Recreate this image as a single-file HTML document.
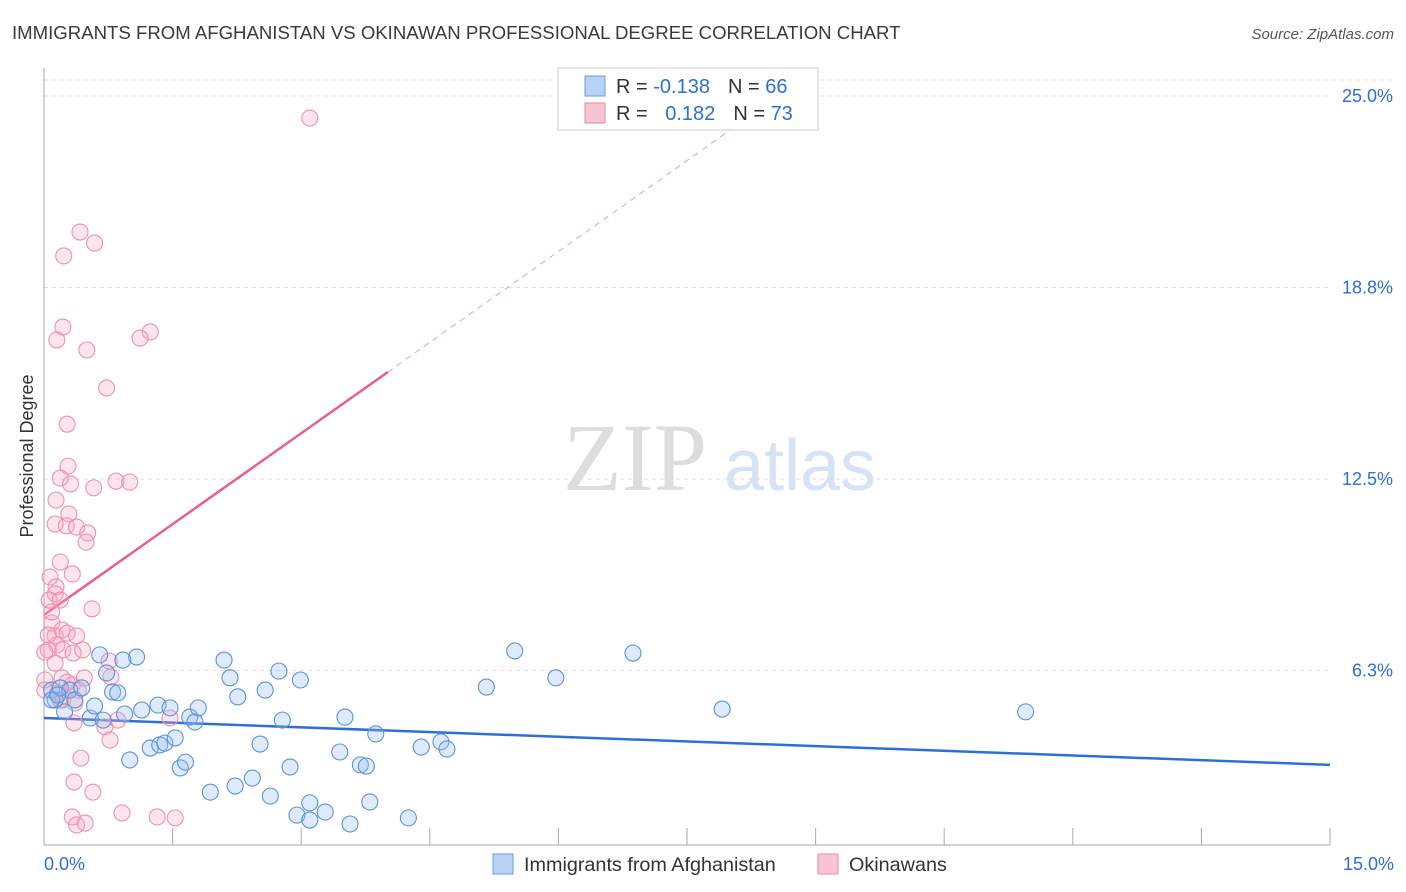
<!DOCTYPE html>
<html><head><meta charset="utf-8">
<style>
body{margin:0;background:#fff;font-family:"Liberation Sans",sans-serif;}
svg{display:block}
</style></head>
<body>
<svg id="chart" width="1406" height="892" xmlns="http://www.w3.org/2000/svg" font-family="Liberation Sans, sans-serif">
<text x="12" y="39" font-size="18.6" fill="#3a3a3a">IMMIGRANTS FROM AFGHANISTAN VS OKINAWAN PROFESSIONAL DEGREE CORRELATION CHART</text>
<text x="1394" y="39" font-size="15" fill="#555" text-anchor="end" font-style="italic">Source: ZipAtlas.com</text>
<text transform="translate(33,456) rotate(-90)" font-size="18" fill="#333" text-anchor="middle">Professional Degree</text>
<g>
<text x="635" y="490" font-size="96" fill="#ddd" font-family="Liberation Serif, serif" text-anchor="middle">ZIP</text>
<text x="800" y="490" font-size="72" fill="#d5e3f5" text-anchor="middle">atlas</text>
</g>
<g id="grid"></g>
<g id="axes"></g>
<g id="trend"></g>
<g id="pts"></g>
<g>
<rect x="558" y="68" width="260" height="62" fill="#fff" stroke="#ccc"/>
<rect x="585" y="76" width="20" height="20" fill="#b8d2f5" stroke="#6a9de0"/>
<rect x="585" y="103" width="20" height="20" fill="#f9c4d4" stroke="#e88aa8"/>
<text x="616" y="93" font-size="20" fill="#333">R = <tspan fill="#2c6fd6">-0.138</tspan><tspan dx="18">N = </tspan><tspan fill="#2c6fd6">66</tspan></text>
<text x="616" y="120" font-size="20" fill="#333">R = <tspan fill="#2c6fd6" dx="12">0.182</tspan><tspan dx="18">N = </tspan><tspan fill="#2c6fd6">73</tspan></text>
</g>
<g>
<rect x="493" y="854" width="20" height="20" fill="#b8d2f5" stroke="#6a9de0"/>
<text x="524" y="871" font-size="19.8" fill="#333">Immigrants from Afghanistan</text>
<rect x="818" y="854" width="20" height="20" fill="#f9c4d4" stroke="#e88aa8"/>
<text x="849" y="871" font-size="19.8" fill="#333">Okinawans</text>
</g>
</svg>
<script>
const yTicks=[25,18.75,12.5,6.25];
const yTickLabels=["25.0%","18.8%","12.5%","6.3%"];
const xTickLabels=["0.0%","15.0%"];
const blueX=[0.09,0.13,0.19,0.24,0.30,0.36,0.44,0.54,0.59,0.65,0.73,0.80,0.86,0.69,0.94,1.00,1.08,0.92,1.14,1.24,1.33,1.35,1.41,1.47,1.53,1.59,1.65,1.70,1.76,1.80,1.94,2.10,2.17,2.23,2.26,2.43,2.52,2.58,2.64,2.74,2.78,2.87,2.99,2.95,3.10,3.10,3.28,3.45,3.51,3.57,3.69,3.76,3.80,3.87,4.25,4.40,4.63,4.70,5.16,5.49,5.97,6.87,7.91,11.45,0.09,0.16];
const blueY=[5.61,5.29,5.68,4.90,5.61,5.29,5.68,4.70,5.09,6.76,6.17,5.55,5.52,4.63,4.83,3.33,6.69,6.59,4.96,3.72,5.12,3.82,3.88,5.03,4.05,3.07,3.26,4.73,4.57,5.03,2.28,6.59,6.01,2.48,5.39,2.74,3.85,5.61,2.15,6.23,4.63,3.10,5.94,1.53,1.93,1.37,1.63,3.59,4.73,1.24,3.17,3.13,1.96,4.18,1.44,3.75,3.92,3.69,5.71,6.89,6.01,6.82,4.99,4.90,5.29,5.45];
const pinkX=[3.10,0.42,0.59,0.23,0.22,0.15,1.24,1.12,0.50,0.73,0.27,0.28,0.19,0.31,0.58,0.84,0.14,0.29,0.13,0.26,0.38,0.51,0.49,0.19,0.33,0.07,0.14,0.13,0.06,0.19,0.56,0.09,0.13,0.21,0.27,0.38,0.15,0.05,0.22,0.45,0.13,0.76,0.34,0.21,0.33,0.16,0.40,0.47,0.78,0.01,0.01,0.22,0.36,0.35,0.71,0.86,0.77,1.47,0.43,0.35,0.57,0.19,0.33,0.38,0.48,0.91,1.32,1.53,0.01,0.05,0.27,0.09,1.00];
const pinkY=[24.28,20.56,20.20,19.78,17.46,17.04,17.30,17.10,16.71,15.47,14.29,12.92,12.53,12.34,12.21,12.43,11.81,11.36,11.03,10.97,10.93,10.74,10.44,9.79,9.40,9.30,8.98,8.75,8.55,8.55,8.26,7.80,7.38,7.57,7.47,7.38,7.08,6.92,6.92,6.92,6.49,6.56,6.82,6.01,5.78,5.52,5.61,6.01,6.04,5.94,5.61,5.29,5.19,4.54,4.41,4.63,3.98,4.70,3.39,2.61,2.28,5.29,1.47,1.21,1.27,1.60,1.47,1.44,6.85,7.41,5.87,8.16,12.40];
const blueTrend=[4.70,3.17];
const pinkTrend=[8.06,15.99,4.01];
const NS="http://www.w3.org/2000/svg";
const X=v=>44+v/15*1286;
const Y=v=>862-v/6.25*191.5;
function mk(tag,attrs,parent){const e=document.createElementNS(NS,tag);for(const k in attrs)e.setAttribute(k,attrs[k]);parent.appendChild(e);return e;}
const grid=document.getElementById('grid'),axes=document.getElementById('axes'),trend=document.getElementById('trend'),pts=document.getElementById('pts');
mk('line',{x1:44,x2:1394,y1:80,y2:80,stroke:'#ddd','stroke-dasharray':'4,4'},grid);
yTicks.forEach((t,i)=>{
 const l=mk('line',{x1:44,x2:1330,y1:Y(t),y2:Y(t),stroke:'#ddd','stroke-dasharray':'4,4'},grid);
 
 
 const tx=mk('text',{x:1393,y:Y(t)+6,'font-size':18,fill:'#2c6fd6','text-anchor':'end'},axes);
 tx.textContent=yTickLabels[i];
 
 
});
mk('line',{x1:44,x2:44,y1:68,y2:845,stroke:'#aaa'},axes);
mk('line',{x1:44,x2:1330,y1:845,y2:845,stroke:'#aaa'},axes);
for(let i=1;i<=10;i++){const xv=X(i*1.5);mk('line',{x1:xv,x2:xv,y1:828,y2:845,stroke:'#aaa'},axes);}
const xl0=mk('text',{x:44,y:870,'font-size':18,fill:'#2c6fd6'},axes);xl0.textContent=xTickLabels[0];


const xl1=mk('text',{x:1394,y:870,'font-size':18,fill:'#2c6fd6','text-anchor':'end'},axes);xl1.textContent=xTickLabels[1];


const bt=mk('line',{x1:X(0),x2:X(15),y1:Y(blueTrend[0]),y2:Y(blueTrend[1]),stroke:'#2c6fd6','stroke-width':2.5},trend);


const slope=(pinkTrend[1]-pinkTrend[0])/pinkTrend[2];
const xe=(25.5-pinkTrend[0])/slope;
const pd=mk('line',{x1:X(pinkTrend[2]),x2:X(xe),y1:Y(pinkTrend[1]),y2:Y(25.5),stroke:'#e8a0b8','stroke-width':1,'stroke-dasharray':'6,5'},trend);


const pt=mk('line',{x1:X(0),x2:X(pinkTrend[2]),y1:Y(pinkTrend[0]),y2:Y(pinkTrend[1]),stroke:'#e8608a','stroke-width':2.5},trend);


pinkX.forEach((v,i)=>{
 const c=mk('circle',{cx:X(v),cy:Y(pinkY[i]),r:8,fill:'rgba(248,170,195,0.3)',stroke:'#ec92ae','stroke-width':1.1},pts);
 
 
});
blueX.forEach((v,i)=>{
 const c=mk('circle',{cx:X(v),cy:Y(blueY[i]),r:8,fill:'rgba(150,190,240,0.3)',stroke:'#5a92dc','stroke-width':1.1},pts);
 
 
});
</script>
</body></html>
